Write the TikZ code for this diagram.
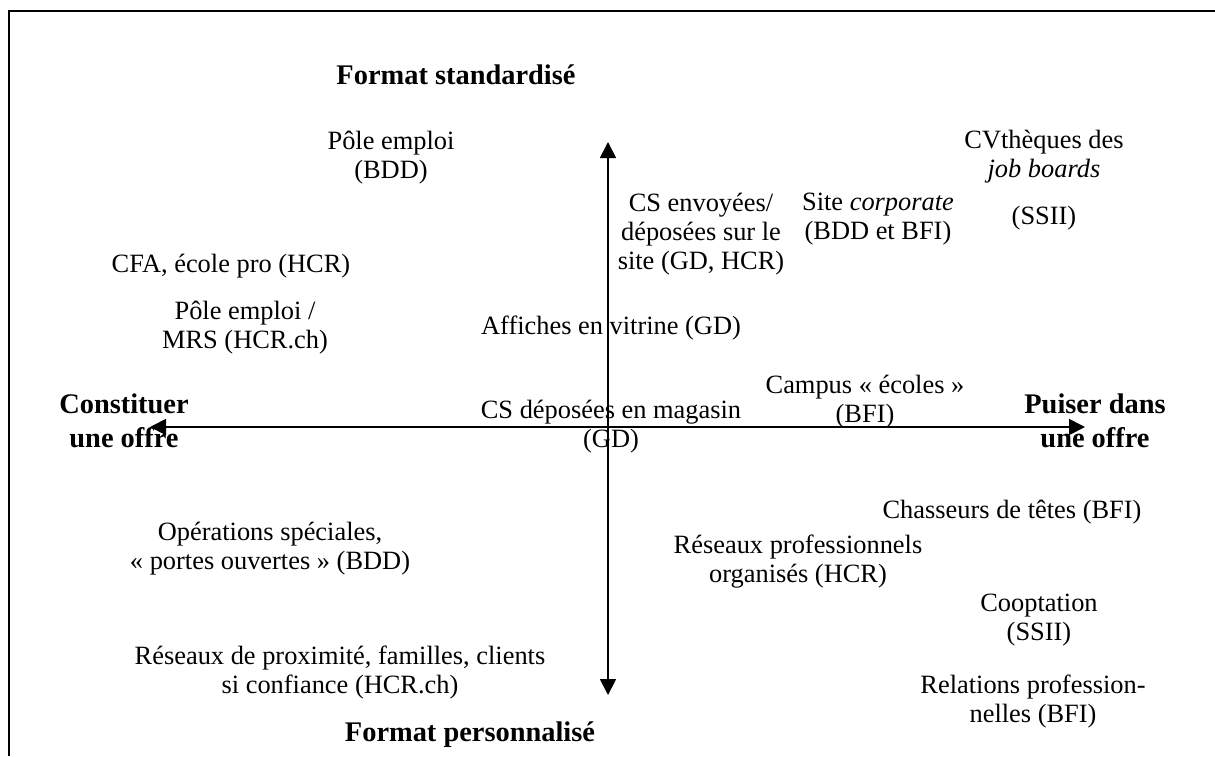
\documentclass[tikz,border=0pt]{standalone}
\usepackage{fontspec}
\setmainfont{Liberation Serif}
\usetikzlibrary{arrows.meta}

\tikzset{
  pole/.style={font=\fontsize{14.2}{17}\selectfont\bfseries, align=center, inner sep=0pt},
  entry/.style={font=\fontsize{13.2}{14.5}\selectfont, align=center, inner sep=0pt},
  axis/.style={line width=0.9pt, -{Triangle[length=8pt,width=8pt]}},
}

\begin{document}
\begin{tikzpicture}[x=0.5pt,y=-0.5pt]
        \useasboundingbox (0,0) rectangle (1215,756);
        % cadre
        \draw[line width=1.1pt] (9,756) -- (9,11) -- (1215,11);

        % axes
        \coordinate (centre) at (608,427);
        \coordinate (west) at (150,427);
        \coordinate (east) at (1085,427);
        \coordinate (north) at (608,142);
        \coordinate (south) at (608,695);
        \draw[axis] (centre) -- (west);
        \draw[axis] (centre) -- (east);
        \draw[axis] (centre) -- (north);
        \draw[axis] (centre) -- (south);

        \node[pole] (std) at (456,75) {Format standardisé};
        \node[pole] (perso) at (470,735) {Format personnalisé};
        \node[pole] (constituer) at (124,421) {Constituer\\une offre};
        \node[pole] (puiser) at (1095,421) {Puiser dans\\une offre};

        % modes de recrutement
        \node[entry] (pole1) at (391,158) {Pôle emploi\\(BDD)};
        \node[entry] (cvtheques) at (1044,180) {CVthèques des\\\textit{job boards}\\[9pt](SSII)};
        \node[entry] (envoyees) at (701,234) {CS envoyées/\\déposées sur le\\site (GD, HCR)};
        \node[entry] (corporate) at (878,219) {Site \textit{corporate}\\(BDD et BFI)};
        \node[entry] (cfa) at (231,266) {CFA, école pro (HCR)};
        \node[entry] (pole2) at (245,328) {Pôle emploi /\\MRS (HCR.ch)};
        \node[entry] (affiches) at (611,328) {Affiches en vitrine (GD)};
        \node[entry] (campus) at (865,402) {Campus « écoles »\\(BFI)};
        \node[entry] (magasin) at (611,427) {CS déposées en magasin\\(GD)};
        \node[entry] (chasseurs) at (1012,512) {Chasseurs de têtes (BFI)};
        \node[entry] (operations) at (270,549) {Opérations spéciales,\\« portes ouvertes » (BDD)};
        \node[entry] (reseauxpro) at (798,562) {Réseaux professionnels\\organisés (HCR)};
        \node[entry] (cooptation) at (1039,620) {Cooptation\\(SSII)};
        \node[entry] (proximite) at (340,673) {Réseaux de proximité, familles, clients\\si confiance (HCR.ch)};
        \node[entry] (relations) at (1033,702) {Relations profession-\\nelles (BFI)};

        \end{tikzpicture}
\end{document}
